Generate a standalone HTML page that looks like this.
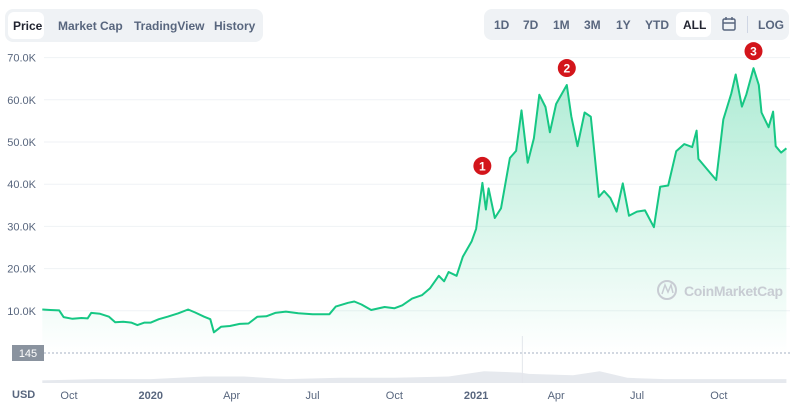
<!DOCTYPE html>
<html><head><meta charset="utf-8"><style>
body{margin:0;width:792px;height:414px;background:#fff;font-family:"Liberation Sans",sans-serif;overflow:hidden;position:relative}
.box{position:absolute;background:#eff2f5;border-radius:8px}
.tab{position:absolute;font-size:12px;font-weight:bold;color:#58667e;top:19px}
.sel{position:absolute;background:#fff;border-radius:6px}
</style></head><body>
<div class="box" style="left:5px;top:9px;width:258px;height:33px"></div>
<div class="sel" style="left:8px;top:12px;width:36px;height:27px"></div>
<div class="tab" style="left:13px;color:#222531">Price</div>
<div class="tab" style="left:58px">Market Cap</div>
<div class="tab" style="left:134px">TradingView</div>
<div class="tab" style="left:214px">History</div>
<div class="box" style="left:484px;top:9px;width:305px;height:31px"></div>
<div class="sel" style="left:676px;top:12px;width:35px;height:25px"></div>
<div class="tab" style="left:494px;top:18px">1D</div>
<div class="tab" style="left:523px;top:18px">7D</div>
<div class="tab" style="left:553px;top:18px">1M</div>
<div class="tab" style="left:584px;top:18px">3M</div>
<div class="tab" style="left:616px;top:18px">1Y</div>
<div class="tab" style="left:645px;top:18px">YTD</div>
<div class="tab" style="left:683px;top:18px;color:#222531">ALL</div>
<svg style="position:absolute;left:722px;top:16px" width="14" height="15"><rect x="1" y="3" width="12" height="11" rx="1.5" fill="none" stroke="#58667e" stroke-width="1.5"/><line x1="1" y1="7" x2="13" y2="7" stroke="#58667e" stroke-width="1.5"/><line x1="4" y1="1" x2="4" y2="4" stroke="#58667e" stroke-width="1.5"/><line x1="10" y1="1" x2="10" y2="4" stroke="#58667e" stroke-width="1.5"/></svg>
<div style="position:absolute;left:747px;top:16px;width:1px;height:17px;background:#cfd6e4"></div>
<div class="tab" style="left:758px;top:18px">LOG</div>
<svg id="c" width="792" height="414" style="position:absolute;left:0;top:0"></svg>
<script>
const dates=["2019-09-01","2019-09-10","2019-09-20","2019-09-25","2019-10-05","2019-10-15","2019-10-22","2019-10-26","2019-11-05","2019-11-15","2019-11-22","2019-12-01","2019-12-10","2019-12-17","2019-12-25","2020-01-01","2020-01-10","2020-01-20","2020-02-01","2020-02-12","2020-02-20","2020-03-01","2020-03-08","2020-03-12","2020-03-20","2020-03-30","2020-04-10","2020-04-20","2020-04-30","2020-05-10","2020-05-20","2020-06-01","2020-06-15","2020-07-01","2020-07-20","2020-07-27","2020-08-10","2020-08-17","2020-08-25","2020-09-05","2020-09-20","2020-10-01","2020-10-10","2020-10-21","2020-11-01","2020-11-10","2020-11-20","2020-11-26","2020-12-01","2020-12-10","2020-12-17","2020-12-27","2021-01-01","2021-01-08","2021-01-12","2021-01-15","2021-01-22","2021-01-29","2021-02-08","2021-02-15","2021-02-21","2021-02-28","2021-03-07","2021-03-13","2021-03-20","2021-03-25","2021-04-01","2021-04-13","2021-04-18","2021-04-25","2021-05-03","2021-05-10","2021-05-13","2021-05-19","2021-05-25","2021-06-01","2021-06-08","2021-06-15","2021-06-22","2021-07-01","2021-07-10","2021-07-20","2021-07-27","2021-08-05","2021-08-14","2021-08-23","2021-09-01","2021-09-06","2021-09-08","2021-09-20","2021-09-28","2021-10-06","2021-10-15","2021-10-20","2021-10-27","2021-11-01","2021-11-09","2021-11-15","2021-11-18","2021-11-26","2021-12-01","2021-12-04","2021-12-10","2021-12-16"];
const prices=[10.3,10.2,10.1,8.5,8.1,8.3,8.2,9.5,9.3,8.6,7.3,7.4,7.2,6.6,7.2,7.2,8.0,8.6,9.4,10.3,9.6,8.6,8.0,4.9,6.2,6.4,6.9,7.0,8.6,8.7,9.5,9.8,9.4,9.2,9.2,11.0,11.9,12.2,11.5,10.2,10.9,10.6,11.3,12.9,13.7,15.3,18.3,17.0,19.2,18.3,22.8,26.5,29.4,40.3,34.0,39.0,32.0,34.3,46.2,47.9,57.5,45.1,50.9,61.2,58.3,52.3,59.0,63.5,56.1,49.0,57.0,56.0,49.7,37.0,38.4,36.7,33.5,40.2,32.5,33.5,33.8,29.8,39.4,39.7,47.8,49.5,48.8,52.7,46.0,43.0,41.0,55.3,61.5,66.0,58.4,61.3,67.5,63.5,57.0,53.5,57.2,49.0,47.5,48.5];
const volDates=["2019-09-01","2019-11-01","2020-01-01","2020-03-01","2020-04-15","2020-06-01","2020-08-01","2020-10-01","2020-12-01","2021-01-10","2021-02-20","2021-03-01","2021-04-20","2021-05-20","2021-06-20","2021-08-01","2021-10-01","2021-12-16"];
const volumes=[2,3,3,5,5,3,4,4,5,9,8,7,6,9,4,3,3,3];
const yTicks=[10,20,30,40,50,60,70];
const xTickDates=["2019-10-01","2020-01-01","2020-04-01","2020-07-01","2020-10-01","2021-01-01","2021-04-01","2021-07-01","2021-10-01"];
const xTickLabels=["Oct","2020","Apr","Jul","Oct","2021","Apr","Jul","Oct"];
const markerDates=["2021-01-08","2021-04-13","2021-11-09"];
const markerLabels=["1","2","3"];
const markerPrices=[40.3,63.5,67.5];

const NS="http://www.w3.org/2000/svg",svg=document.getElementById('c');
const t0=Date.parse("2019-09-01");
const X=d=>42.3+(Date.parse(d)-t0)/864e5*0.889;
const Y=v=>353-v*4.22;
const VY=v=>383-v*1.3;
function el(t,a,p){const e=document.createElementNS(NS,t);for(const k in a)e.setAttribute(k,a[k]);(p||svg).appendChild(e);return e;}
const defs=el('defs',{});
const g=el('linearGradient',{id:'gf',x1:0,y1:0,x2:0,y2:1},defs);
el('stop',{offset:'0','stop-color':'#16c784','stop-opacity':'0.35'},g);
el('stop',{offset:'1','stop-color':'#16c784','stop-opacity':'0'},g);
yTicks.forEach(v=>{
 const l=el('line',{x1:44,x2:790,y1:Y(v),y2:Y(v),stroke:'#eff2f5'});
 
 
 const t=el('text',{x:36,y:Y(v)+4,'text-anchor':'end','font-size':11,fill:'#58667e'});
 t.textContent=v.toFixed(1)+'K';
 
 
});
let pts=dates.map((d,i)=>X(d).toFixed(1)+','+Y(prices[i]).toFixed(1));
const area=el('path',{d:'M'+X(dates[0])+',353L'+pts.join('L')+'L'+X(dates[dates.length-1])+',353Z',fill:'url(#gf)'});


const line=el('polyline',{points:pts.join(' '),fill:'none',stroke:'#16c784','stroke-width':2,'stroke-linejoin':'round'});


const dl=el('line',{x1:44,x2:790,y1:353,y2:353,stroke:'#a6b0c3','stroke-dasharray':'2,2'});


const vp=volDates.map((d,i)=>X(d).toFixed(1)+','+VY(volumes[i]).toFixed(1));
const va=el('path',{d:'M'+X(volDates[0])+',383L'+vp.join('L')+'L'+X(volDates[volDates.length-1])+',383Z',fill:'#e6e9ee'});


const sp=el('line',{x1:X("2021-02-22"),x2:X("2021-02-22"),y1:336,y2:383,stroke:'#e3e6ec'});


const bx=el('rect',{x:12,y:345,width:32,height:16,fill:'#8a939f'});


const bt=el('text',{x:28,y:357,'text-anchor':'middle','font-size':11,fill:'#fff'});bt.textContent='145';


const ut=el('text',{x:12,y:398,'font-size':11,'font-weight':'bold',fill:'#58667e'});ut.textContent='USD';


xTickDates.forEach((d,i)=>{
 const b=/^\d{4}$/.test(xTickLabels[i]);
 const t=el('text',{x:X(d),y:399,'text-anchor':'middle','font-size':11,'font-weight':b?'bold':'normal',fill:'#58667e'});
 t.textContent=xTickLabels[i];
 
 
});
const wm=el('g',{});


el('circle',{cx:667,cy:290,r:9,fill:'none',stroke:'#c8ccd3','stroke-width':2},wm);
el('path',{d:'M662,294L665,285L668,292L671,285L673,293',fill:'none',stroke:'#c8ccd3','stroke-width':1.5},wm);
const wt=el('text',{x:684,y:296,'font-size':14,'font-weight':'bold',fill:'#c8ccd3',textLength:99},wm);wt.textContent='CoinMarketCap';
markerDates.forEach((d,i)=>{
 const m=el('g',{});
 
 
 const cx=X(d),cy=Y(markerPrices[i])-17;
 el('circle',{cx:cx,cy:cy,r:9,fill:'#d3151b'},m);
 const t=el('text',{x:cx,y:cy+4.5,'text-anchor':'middle','font-size':12,'font-weight':'bold',fill:'#fff'},m);
 t.textContent=markerLabels[i];
});
</script>
</body></html>
